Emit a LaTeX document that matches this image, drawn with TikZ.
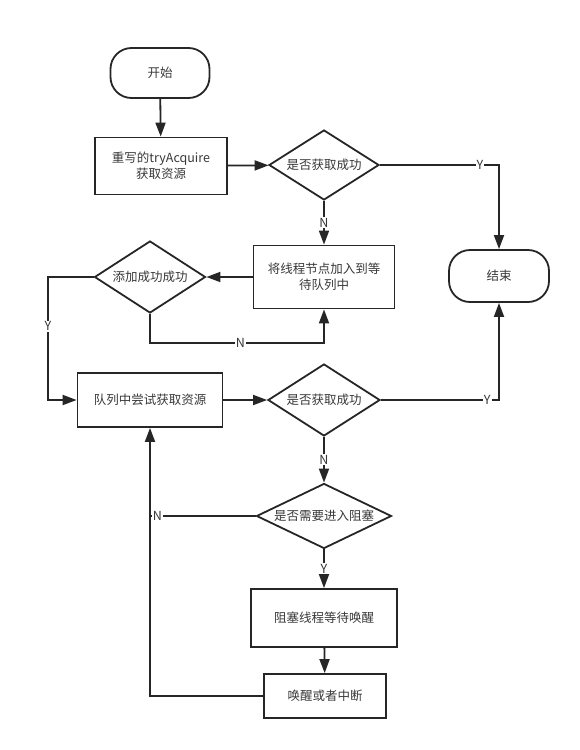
\documentclass[tikz,border=0pt]{standalone}
\usepackage{fontspec}
\setmainfont{Noto Sans CJK SC}
\usetikzlibrary{shapes.geometric,arrows.meta}

\begin{document}
\begin{tikzpicture}[x=1pt,y=-1pt,line width=1.8pt,color=black!85,
  every node/.style={font=\fontsize{12.5}{16}\selectfont,text=black!78},
  term/.style={draw,rounded corners=21pt,minimum width=99pt,minimum height=50pt},
  proc/.style={draw,align=center,inner sep=2pt},
  cond/.style={draw,diamond,inner sep=0pt},
  flow/.style={-{Triangle[length=14pt,width=10pt]}},
  lbl/.style={fill=white,inner sep=1pt}]
\useasboundingbox (0,0) rectangle (580,750);
\node[term] (start) at (160,73) {开始};
\node[proc,minimum width=132pt,minimum height=57pt] (rw) at (161,166) {重写的tryAcquire\\获取资源};
\node[cond,aspect=1.57,minimum width=110pt,minimum height=70pt] (ok1) at (324,165) {是否获取成功};
\node[term,minimum width=100pt,minimum height=52pt] (end) at (499,276) {结束};
\node[proc,minimum width=141pt,minimum height=63pt] (enq) at (324,277) {将线程节点加入到等\\待队列中};
\node[cond,aspect=1.54,minimum width=111pt,minimum height=72pt] (add) at (150,277) {添加成功成功};
\node[proc,minimum width=145pt,minimum height=54pt] (try) at (150,400) {队列中尝试获取资源};
\node[cond,aspect=1.56,minimum width=112pt,minimum height=72pt] (ok2) at (324,400) {是否获取成功};
\node[cond,aspect=2.08,minimum width=135pt,minimum height=65pt] (blk) at (324,516) {是否需要进入阻塞};
\node[proc,minimum width=146pt,minimum height=58pt] (park) at (324,618) {阻塞线程等待唤醒};
\node[proc,minimum width=122pt,minimum height=44pt] (wake) at (325,696) {唤醒或者中断};
\coordinate (ly) at (48,277);
\coordinate (ln) at (150,343);
\draw[flow] (start) -- (rw);
\draw[flow] (rw) -- (ok1);
\draw[flow] (ok1.east) -| node[lbl,pos=0.42] {Y} (end.north);
\draw[flow] (ok1) -- node[lbl] {N} (enq);
\draw[flow] (enq) -- (add);
\draw[flow] (add.west) -- (ly) |- node[lbl,pos=0.2] {Y} (try.west);
\draw[flow] (add.south) -- (ln) -| node[lbl,pos=0.26] {N} (enq.south);
\draw[flow] (try) -- (ok2);
\draw[flow] (ok2.east) -| node[lbl,pos=0.45] {Y} (end.south);
\draw[flow] (ok2) -- node[lbl] {N} (blk);
\draw (blk.west) -- node[lbl,pos=0.93] {N} (blk.west -| try.south);
\draw[flow] (blk) -- node[lbl] {Y} (park);
\draw[flow] (park) -- (wake);
\draw[flow] (wake.west) -| (try.south);
\end{tikzpicture}
\end{document}
